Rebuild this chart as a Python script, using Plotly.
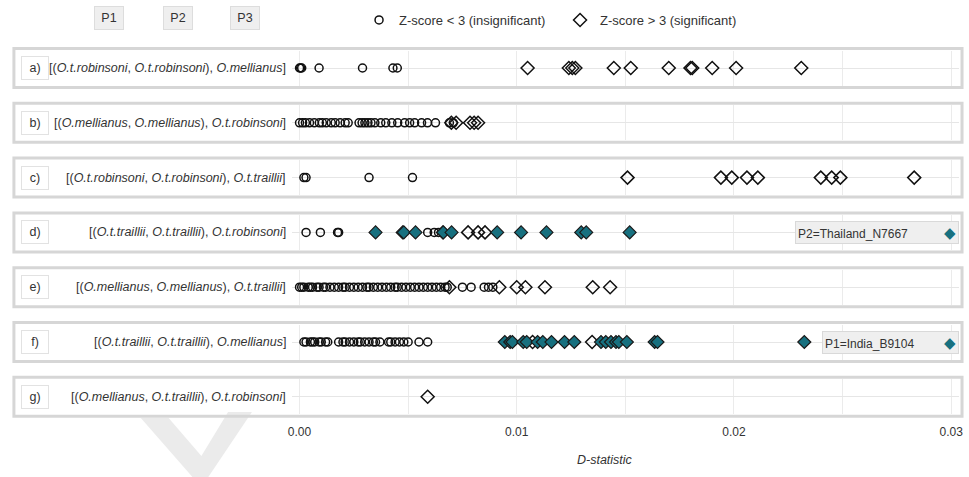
import plotly.graph_objects as go
from plotly.subplots import make_subplots

W, H = 969, 477
TEAL = "#17707f"

letters = ["a)", "b)", "c)", "d)", "e)", "f)", "g)"]
labels = [
    "[(<i>O.t.robinsoni</i>, <i>O.t.robinsoni</i>), <i>O.mellianus</i>]",
    "[(<i>O.mellianus</i>, <i>O.mellianus</i>), <i>O.t.robinsoni</i>]",
    "[(<i>O.t.robinsoni</i>, <i>O.t.robinsoni</i>), <i>O.t.traillii</i>]",
    "[(<i>O.t.traillii</i>, <i>O.t.traillii</i>), <i>O.t.robinsoni</i>]",
    "[(<i>O.mellianus</i>, <i>O.mellianus</i>), <i>O.t.traillii</i>]",
    "[(<i>O.t.traillii</i>, <i>O.t.traillii</i>), <i>O.mellianus</i>]",
    "[(<i>O.mellianus</i>, <i>O.t.traillii</i>), <i>O.t.robinsoni</i>]",
]

# insignificant (Z < 3): open circles
insig = [
    [0.0000, 0.00005, 0.0001, 0.0009, 0.0029, 0.0043, 0.0045],
    [0.0000, 0.00014, 0.00027, 0.00046, 0.00068, 0.00091, 0.00105, 0.00123, 0.00146,
     0.00164, 0.00187, 0.0021, 0.00224, 0.00274, 0.00288, 0.00301, 0.00315, 0.00329,
     0.00347, 0.00374, 0.00397, 0.00425, 0.00452, 0.00484, 0.00507, 0.0053, 0.00562,
     0.00589, 0.00626, 0.0069, 0.00708],
    [0.0002, 0.0003, 0.0032, 0.0052],
    [0.0003, 0.00096, 0.00175, 0.0018, 0.0059, 0.0062, 0.0064],
    [0.0000, 0.0001, 0.0002, 0.0004, 0.0005, 0.0006, 0.0008, 0.0009, 0.0011, 0.0012,
     0.0014, 0.0016, 0.0018, 0.0020, 0.0021, 0.0023, 0.0025, 0.0027, 0.0029, 0.0031,
     0.0032, 0.0034, 0.0036, 0.0038, 0.0040, 0.0042, 0.0044, 0.0045, 0.0047, 0.0049,
     0.0051, 0.0053, 0.0055, 0.0057, 0.0059, 0.0061, 0.0063, 0.0065, 0.0067, 0.0068,
     0.0075, 0.0079, 0.0085, 0.0087, 0.0089],
    [0.0002, 0.0003, 0.0005, 0.0006, 0.0007, 0.0009, 0.0010, 0.0012, 0.0013, 0.0018,
     0.0020, 0.0021, 0.0023, 0.0025, 0.0027, 0.0028, 0.0030, 0.0032, 0.0034, 0.0035,
     0.0037, 0.0041, 0.0042, 0.0044, 0.0046, 0.0048, 0.0050, 0.0055, 0.0059],
    [],
]

# significant (Z > 3): open diamonds
sig = [
    [0.0105, 0.0124, 0.01256, 0.0127, 0.01447, 0.01525, 0.0170, 0.0180, 0.01808,
     0.0190, 0.0201, 0.0231],
    [0.00699, 0.00721, 0.00785, 0.00804, 0.00822],
    [0.0151, 0.0194, 0.0199, 0.0206, 0.0211, 0.0240, 0.0245, 0.0249, 0.0283],
    [0.00776, 0.00822, 0.00854],
    [0.0069, 0.0092, 0.0100, 0.0104, 0.0113, 0.0135, 0.0143],
    [0.01073, 0.01347],
    [0.0059],
]

# significant and involving the highlighted sample: filled teal diamonds
highlight = [
    [], [], [],
    [0.0035, 0.00475, 0.0048, 0.00534, 0.0066, 0.00662, 0.0070, 0.0091, 0.0102,
     0.01137, 0.01297, 0.0132, 0.0152],
    [],
    [0.00945, 0.0097, 0.0098, 0.0103, 0.01046, 0.01096, 0.0112, 0.0116, 0.0122,
     0.01265, 0.01388, 0.0141, 0.01434, 0.01457, 0.0147, 0.01507, 0.01635, 0.01648,
     0.02324],
    [],
]
highlight_names = {3: "P2=Thailand_N7667", 5: "P1=India_B9104"}

tick_vals = [0.0, 0.005, 0.01, 0.015, 0.02, 0.025, 0.03]
tick_text = ["0.00", "", "0.01", "", "0.02", "", "0.03"]
x_range = [-0.000365, 0.030365]

n = len(letters)
fig = make_subplots(rows=n, cols=1)


def fx(px):
    return px / W


def fy(py):
    return 1 - py / H


centers = [68 + i * 54.8 for i in range(n)]
half = 19.5
FONT = "Liberation Sans, Arial, sans-serif"

for i in range(n):
    r = i + 1
    if insig[i]:
        fig.add_trace(go.Scatter(
            x=insig[i], y=[0] * len(insig[i]), mode="markers",
            marker=dict(symbol="circle-open", size=8, color="#111111", line=dict(width=1.5)),
            name="Z-score < 3 (insignificant)", legendgroup="insig",
            showlegend=(i == 0), hoverinfo="x"), row=r, col=1)
    if sig[i]:
        fig.add_trace(go.Scatter(
            x=sig[i], y=[0] * len(sig[i]), mode="markers",
            marker=dict(symbol="diamond-open", size=10, color="#111111", line=dict(width=1.5)),
            name="Z-score > 3 (significant)", legendgroup="sig",
            showlegend=(i == 0), hoverinfo="x"), row=r, col=1)
    if highlight[i]:
        fig.add_trace(go.Scatter(
            x=highlight[i], y=[0] * len(highlight[i]), mode="markers",
            marker=dict(symbol="diamond", size=10, color=TEAL,
                        line=dict(width=1.2, color="#1a1a1a")),
            name=highlight_names[i], showlegend=False, hoverinfo="x"), row=r, col=1)

    c = centers[i]
    xa = "xaxis" if r == 1 else f"xaxis{r}"
    ya = "yaxis" if r == 1 else f"yaxis{r}"
    fig.layout[xa].update(
        domain=[fx(290), fx(963)], range=x_range, tickvals=tick_vals,
        ticktext=tick_text, showgrid=True, gridcolor="#ebebeb", gridwidth=1,
        zeroline=False, showline=False, showticklabels=(i == n - 1),
        ticks="outside" if i == n - 1 else "", ticklen=6, tickcolor="rgba(0,0,0,0)",
        tickfont=dict(size=12, color="#333333", family=FONT))
    fig.layout[ya].update(
        domain=[fy(c + half - 2), fy(c - half + 2)], range=[-1, 1], tickvals=[0],
        showgrid=True, gridcolor="#e6e6e6", gridwidth=1, zeroline=False,
        showticklabels=False, fixedrange=True)

    # panel frame
    fig.add_shape(type="rect", xref="paper", yref="paper",
                  x0=fx(10), x1=fx(966), y0=fy(c + half), y1=fy(c - half),
                  line=dict(color="#d6d6d6", width=3), layer="above")
    # letter box
    fig.add_annotation(xref="paper", yref="paper", x=fx(31), y=fy(c), text=letters[i],
                       xanchor="center", yanchor="middle",
                       showarrow=False, width=24, height=20, borderpad=1,
                       bordercolor="#e2e2e2", borderwidth=1, bgcolor="white",
                       font=dict(size=12.5, color="#333333", family=FONT))
    # species label
    fig.add_annotation(xref="paper", yref="paper", x=fx(286), y=fy(c), text=labels[i],
                       showarrow=False, xanchor="right", yanchor="middle",
                       font=dict(size=12.5, color="#333333", family=FONT))
    if i in highlight_names:
        fig.add_annotation(
            xref="paper", yref="paper", x=fx(963), y=fy(c), xanchor="right",
            yanchor="middle",
            text=highlight_names[i] + "&nbsp;" * (11 if i == 3 else 9)
                 + f"<span style='color:{TEAL};font-size:15px'>◆</span>",
            showarrow=False, bgcolor="#efefef", bordercolor="#d9d9d9", borderwidth=1,
            borderpad=2, font=dict(size=12, color="#333333", family=FONT))

# top P1 P2 P3 boxes
for lab, px in zip(["P1", "P2", "P3"], [106, 175, 243]):
    fig.add_annotation(xref="paper", yref="paper", x=fx(px), y=fy(18), text=lab,
                       xanchor="center", yanchor="middle",
                       showarrow=False, width=26, height=20, bgcolor="#efefef",
                       bordercolor="#dddddd", borderwidth=1, borderpad=1,
                       font=dict(size=12.5, color="#333333", family=FONT))

# axis title
fig.add_annotation(xref="paper", yref="paper", x=fx(606), y=fy(460),
                   xanchor="center", yanchor="middle",
                   text="<i>D-statistic</i>", showarrow=False,
                   font=dict(size=12.5, color="#333333", family=FONT))

# watermark chevron
pts = [(138, 418), (166, 418), (199, 456), (226, 412), (250, 412), (206, 477), (190, 477)]
path = "M " + " L ".join(f"{fx(a):.4f},{fy(b):.4f}" for a, b in pts) + " Z"
fig.add_shape(type="path", xref="paper", yref="paper", path=path,
              fillcolor="#ebebeb", line=dict(width=0), layer="below")

fig.update_layout(
    width=W, height=H, margin=dict(l=0, r=0, t=0, b=0),
    paper_bgcolor="white", plot_bgcolor="white",
    legend=dict(orientation="h", x=fx(358), y=fy(5), xanchor="left", yanchor="top",
                font=dict(size=13, color="#333333", family=FONT),
                entrywidthmode="pixels", entrywidth=156, itemwidth=30,
                bgcolor="rgba(0,0,0,0)"),
    showlegend=True,
    hovermode="closest",
)

fig.write_html("out.html", config={"displayModeBar": False},
               post_script="document.body.style.margin='0';")
